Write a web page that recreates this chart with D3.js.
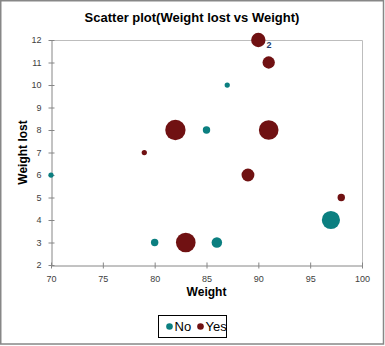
<!DOCTYPE html>
<html>
<head>
<meta charset="utf-8">
<script src="https://cdn.jsdelivr.net/npm/d3@7"></script>
<style>
  html, body { margin: 0; padding: 0; background: #fff; }
  svg { display: block; font-family: "Liberation Sans", Arial, sans-serif; }
</style>
</head>
<body>
<svg id="chart" width="385" height="346"></svg>
<script>
// Weight, weight lost and bubble size per group
const groups = ["No", "Yes"];
const noWeight = [70, 80, 85, 86, 87, 97];
const noLost   = [6, 3, 8, 3, 10, 4];
const noSize   = [1, 2, 2, 4, 1, 12];
const yesWeight = [79, 82, 83, 89, 90, 91, 91, 98];
const yesLost   = [7, 8, 3, 6, 12, 11, 8, 5];
const yesSize   = [1, 15, 14, 6, 7.5, 5.5, 14, 2];
const yesLabels = ["", "", "", "", "2", "", "", ""];
const xTicks = [70, 75, 80, 85, 90, 95, 100];
const yTicks = [2, 3, 4, 5, 6, 7, 8, 9, 10, 11, 12];

const colors = { No: "#0b7f80", Yes: "#701112" };

const svg = d3.select("#chart");
const W = 385, H = 346;
const plot = { left: 51, right: 362, top: 40, bottom: 265 };

// outer frame
svg.append("rect")
  .attr("x", 0.75).attr("y", 0.75)
  .attr("width", W - 2.25).attr("height", H - 2.75)
  .attr("fill", "#fff").attr("stroke", "#878787").attr("stroke-width", 1.5);

const x = d3.scaleLinear().domain([70, 100]).range([plot.left, plot.right]);
const y = d3.scaleLinear().domain([2, 12]).range([plot.bottom, plot.top]);
const r = d3.scaleSqrt().domain([0, 16]).range([0, 10.5]);

// plot area top/right border
svg.append("path")
  .attr("d", `M${plot.left},${plot.top + 0.5}H${plot.right + 0.5}V${plot.bottom}`)
  .attr("fill", "none").attr("stroke", "#bdbdbd").attr("stroke-width", 1);

// axes
const xAxis = d3.axisBottom(x).tickValues(xTicks).tickSize(3).tickSizeOuter(0).tickPadding(7);
const yAxis = d3.axisLeft(y).tickValues(yTicks).tickSize(3).tickSizeOuter(0).tickPadding(7);

const gx = svg.append("g").attr("transform", `translate(0,${plot.bottom + 0.5})`).call(xAxis);
const gy = svg.append("g").attr("transform", `translate(${plot.left + 0.5},0)`).call(yAxis);

[gx, gy].forEach(g => {
  g.select(".domain").attr("stroke", "#868686");
  g.selectAll(".tick line").attr("stroke", "#868686");
  g.selectAll(".tick text")
    .attr("fill", "#404040")
    .style("font-size", "9px")
    .style("font-family", "'Liberation Sans', Arial, sans-serif");
});
// ticks cross the axis lines
gx.selectAll(".tick line").attr("y1", -3).attr("y2", 3);
gy.selectAll(".tick line").attr("x1", -3).attr("x2", 3);

// title and axis titles
svg.append("text")
  .attr("x", 192).attr("y", 22)
  .attr("text-anchor", "middle")
  .style("font-size", "13px").style("font-weight", "bold")
  .attr("fill", "#000")
  .text("Scatter plot(Weight lost vs Weight)");

svg.append("text")
  .attr("x", (plot.left + plot.right) / 2).attr("y", 296)
  .attr("text-anchor", "middle")
  .style("font-size", "12px").style("font-weight", "bold")
  .text("Weight");

svg.append("text")
  .attr("transform", `translate(27,${(plot.top + plot.bottom) / 2}) rotate(-90)`)
  .attr("text-anchor", "middle")
  .style("font-size", "12px").style("font-weight", "bold")
  .text("Weight lost");

// bubbles
const noData = noWeight.map((w, i) => ({ group: "No", w, lost: noLost[i], size: noSize[i], label: "" }));
const yesData = yesWeight.map((w, i) => ({ group: "Yes", w, lost: yesLost[i], size: yesSize[i], label: yesLabels[i] }));
const all = noData.concat(yesData);

svg.append("g").selectAll("circle")
  .data(all)
  .join("circle")
  .attr("cx", d => x(d.w))
  .attr("cy", d => y(d.lost))
  .attr("r", d => r(d.size))
  .attr("fill", d => colors[d.group]);

svg.append("g").selectAll("text")
  .data(all.filter(d => d.label))
  .join("text")
  .attr("x", d => x(d.w) + r(d.size) + 1)
  .attr("y", d => y(d.lost) + 8)
  .style("font-size", "9px").style("font-weight", "bold")
  .attr("fill", "#1f3d6b")
  .text(d => d.label);

// legend
const lg = svg.append("g");
lg.append("rect")
  .attr("x", 158.5).attr("y", 315.5).attr("width", 68).attr("height", 22)
  .attr("fill", "#fff").attr("stroke", "#000").attr("stroke-width", 1);
const legendX = [169.5, 200.5];
groups.forEach((gname, i) => {
  lg.append("circle")
    .attr("cx", legendX[i]).attr("cy", 326.5).attr("r", 3.3)
    .attr("fill", colors[gname]);
  lg.append("text")
    .attr("x", legendX[i] + 5).attr("y", 331)
    .style("font-size", "13px")
    .attr("fill", "#000")
    .text(gname);
});
</script>
</body>
</html>
